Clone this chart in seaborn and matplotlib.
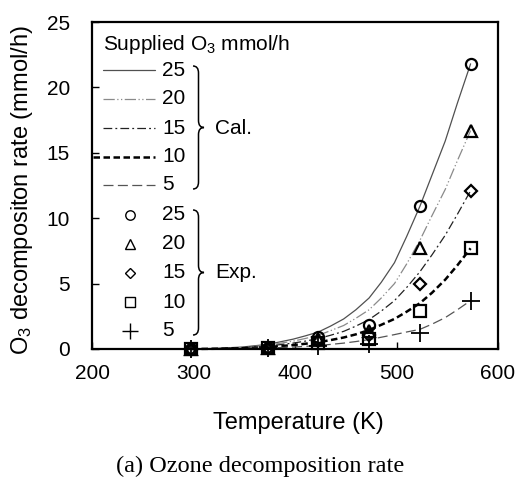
import numpy as np
import pandas as pd
import matplotlib
matplotlib.use("Agg")
import matplotlib.pyplot as plt
from matplotlib.path import Path
from matplotlib.patches import PathPatch
import seaborn as sns

# ---------------- data ----------------
T_cal = [298, 323, 348, 373, 398, 410, 423, 435, 448, 460, 473, 485, 498, 510, 523, 535, 548, 560, 573]
cal_25 = [0.0, 0.05, 0.15, 0.35, 0.75, 1.0, 1.3, 1.75, 2.3, 3.0, 3.9, 5.1, 6.6, 8.6, 10.9, 13.3, 15.9, 18.8, 21.8]
cal_20 = [0.0, 0.04, 0.12, 0.28, 0.6, 0.8, 1.05, 1.4, 1.8, 2.35, 3.0, 3.9, 5.0, 6.5, 8.3, 10.2, 12.2, 14.4, 16.7]
cal_15 = [0.0, 0.03, 0.10, 0.22, 0.45, 0.6, 0.8, 1.05, 1.35, 1.75, 2.25, 2.9, 3.7, 4.7, 5.9, 7.2, 8.7, 10.3, 12.1]
cal_10 = [0.0, 0.02, 0.06, 0.14, 0.3, 0.4, 0.52, 0.68, 0.88, 1.12, 1.45, 1.85, 2.3, 2.85, 3.5, 4.3, 5.3, 6.4, 7.7]
cal_5 = [0.0, 0.01, 0.03, 0.07, 0.15, 0.2, 0.27, 0.35, 0.45, 0.57, 0.72, 0.9, 1.1, 1.3, 1.5, 1.9, 2.4, 3.0, 3.7]

T_exp = [298, 373, 423, 473, 523, 573]
exp_25 = [0.0, 0.1, 0.95, 1.8, 10.9, 21.8]
exp_20 = [0.0, 0.1, 0.75, 1.4, 7.7, 16.7]
exp_15 = [0.0, 0.1, 0.6, 1.1, 5.0, 12.1]
exp_10 = [0.0, 0.1, 0.45, 0.8, 2.9, 7.7]
exp_5 = [0.0, 0.1, 0.2, 0.4, 1.2, 3.7]

supply_labels = ["25", "20", "15", "10", "5"]
x_ticks = [200, 300, 400, 500, 600]
y_ticks = [0, 5, 10, 15, 20, 25]

# ---------------- style ----------------
sns.set_style("ticks")
plt.rcParams['font.family'] = ['Liberation Sans', 'DejaVu Sans']
plt.rcParams['mathtext.fontset'] = 'custom'
plt.rcParams['mathtext.rm'] = 'Liberation Sans'
plt.rcParams['mathtext.it'] = 'Liberation Sans:italic'
plt.rcParams['text.color'] = 'black'
plt.rcParams['axes.labelcolor'] = 'black'
plt.rcParams['xtick.color'] = 'black'
plt.rcParams['ytick.color'] = 'black'

W, H = 517, 479
fig = plt.figure(figsize=(W / 100, H / 100), dpi=100)
L, R, TOP, BOT = 92, 498, 22, 349
ax = fig.add_axes([L / W, 1 - BOT / H, (R - L) / W, (BOT - TOP) / H])

def A(px, py):
    return ((px - L) / (R - L), (BOT - py) / (BOT - TOP))

cal_series = [cal_25, cal_20, cal_15, cal_10, cal_5]
exp_series = [exp_25, exp_20, exp_15, exp_10, exp_5]
line_styles = [
    dict(color='#505050', lw=0.9, ls='-'),
    dict(color='#8a8a8a', lw=0.9, ls=(0, (9, 2, 1, 2, 1, 2))),
    dict(color='#222222', lw=0.9, ls=(0, (7, 2.5, 1.5, 2.5))),
    dict(color='#000000', lw=1.8, ls=(0, (2.6, 1.4))),
    dict(color='#555555', lw=0.9, ls=(0, (8, 3.5))),
]
markers = [
    dict(marker='o', ms=8, mew=1.6),
    dict(marker='^', ms=8, mew=1.6),
    dict(marker='D', ms=6.5, mew=1.6),
    dict(marker='s', ms=8, mew=1.6),
    dict(marker='+', ms=13, mew=1.3),
]

df_cal = pd.DataFrame({'T': T_cal})
for lab, ys in zip(supply_labels, cal_series):
    df_cal[lab] = ys
df_exp = pd.DataFrame({'T': T_exp})
for lab, ys in zip(supply_labels, exp_series):
    df_exp[lab] = ys

for lab, st in zip(supply_labels, line_styles):
    sns.lineplot(data=df_cal, x='T', y=lab, ax=ax, color=st['color'],
                 linewidth=st['lw'], linestyle=st['ls'], clip_on=False)
for lab, mk in zip(supply_labels, markers):
    sns.lineplot(data=df_exp, x='T', y=lab, ax=ax, linestyle='', color='k',
                 marker=mk['marker'], markersize=mk['ms'], markeredgewidth=mk['mew'],
                 markerfacecolor='none', markeredgecolor='k', clip_on=False, zorder=5)

ax.set_xlim(200, 600)
ax.set_ylim(0, 25)
ax.set_xticks(x_ticks)
ax.set_yticks(y_ticks)
ax.tick_params(axis='both', direction='in', length=5, width=1.0, labelsize=15, colors='k')
ax.tick_params(axis='y', pad=16)
ax.tick_params(axis='x', pad=11)
for s in ax.spines.values():
    s.set_linewidth(1.6)
    s.set_color('k')
    s.set_visible(True)
ax.set_xlabel('')
ax.set_ylabel('')

# axis labels
fig.text(298 / W, 1 - 423 / H, 'Temperature (K)', ha='center', va='center', fontsize=17)
fig.text(22 / W, 1 - 190 / H, r'O$_\mathregular{3}$ decompositon rate (mmol/h)',
         ha='center', va='center', rotation=90, fontsize=17)
fig.text(260 / W, 1 - 466 / H, '(a) Ozone decomposition rate', ha='center', va='center',
         fontsize=17.5, family=['Liberation Serif', 'DejaVu Serif'])

# custom legend
ax.text(*A(103, 45), r'Supplied O$_\mathregular{3}$ mmol/h', ha='left', va='center',
        fontsize=15, transform=ax.transAxes)
cal_rows = [70, 99, 128, 157, 185]
exp_rows = [215, 244, 273, 302, 331]
for i, (lab, st) in enumerate(zip(supply_labels, line_styles)):
    y = cal_rows[i]
    x0 = 93 if lab == '10' else 103
    p0, p1 = A(x0, y), A(155, y)
    ax.plot([p0[0], p1[0]], [p0[1], p1[1]], transform=ax.transAxes, color=st['color'],
            lw=st['lw'], ls=st['ls'], clip_on=False)
    ax.text(*A(162, y), lab, ha='left', va='center', fontsize=15, transform=ax.transAxes)
for i, (lab, mk) in enumerate(zip(supply_labels, markers)):
    y = exp_rows[i]
    p = A(130, y)
    ax.plot([p[0]], [p[1]], transform=ax.transAxes, linestyle='', color='k',
            marker=mk['marker'], markersize=mk['ms'] * 0.85, markeredgewidth=1.0,
            markerfacecolor='none', markeredgecolor='k', clip_on=False)
    ax.text(*A(162, y), lab, ha='left', va='center', fontsize=15, transform=ax.transAxes)

def brace(x0, ytop, ybot, w=11, r=7):
    ymid = (ytop + ybot) / 2
    xm = x0 + w * 0.5
    pts = [(x0, ytop), (xm, ytop), (xm, ytop + r),
           (xm, ymid - r), (xm, ymid), (x0 + w, ymid),
           (xm, ymid), (xm, ymid + r),
           (xm, ybot - r), (xm, ybot), (x0, ybot)]
    codes = [Path.MOVETO, Path.CURVE3, Path.CURVE3,
             Path.LINETO, Path.CURVE3, Path.CURVE3,
             Path.CURVE3, Path.CURVE3,
             Path.LINETO, Path.CURVE3, Path.CURVE3]
    path = Path([A(*p) for p in pts], codes)
    ax.add_patch(PathPatch(path, transform=ax.transAxes, fill=False, lw=1.1,
                           edgecolor='k', clip_on=False))

brace(193, 66, 189)
brace(193, 210, 335)
ax.text(*A(215, 128), 'Cal.', ha='left', va='center', fontsize=15, transform=ax.transAxes)
ax.text(*A(215, 273), 'Exp.', ha='left', va='center', fontsize=15, transform=ax.transAxes)

fig.savefig('out.png', dpi=100)
